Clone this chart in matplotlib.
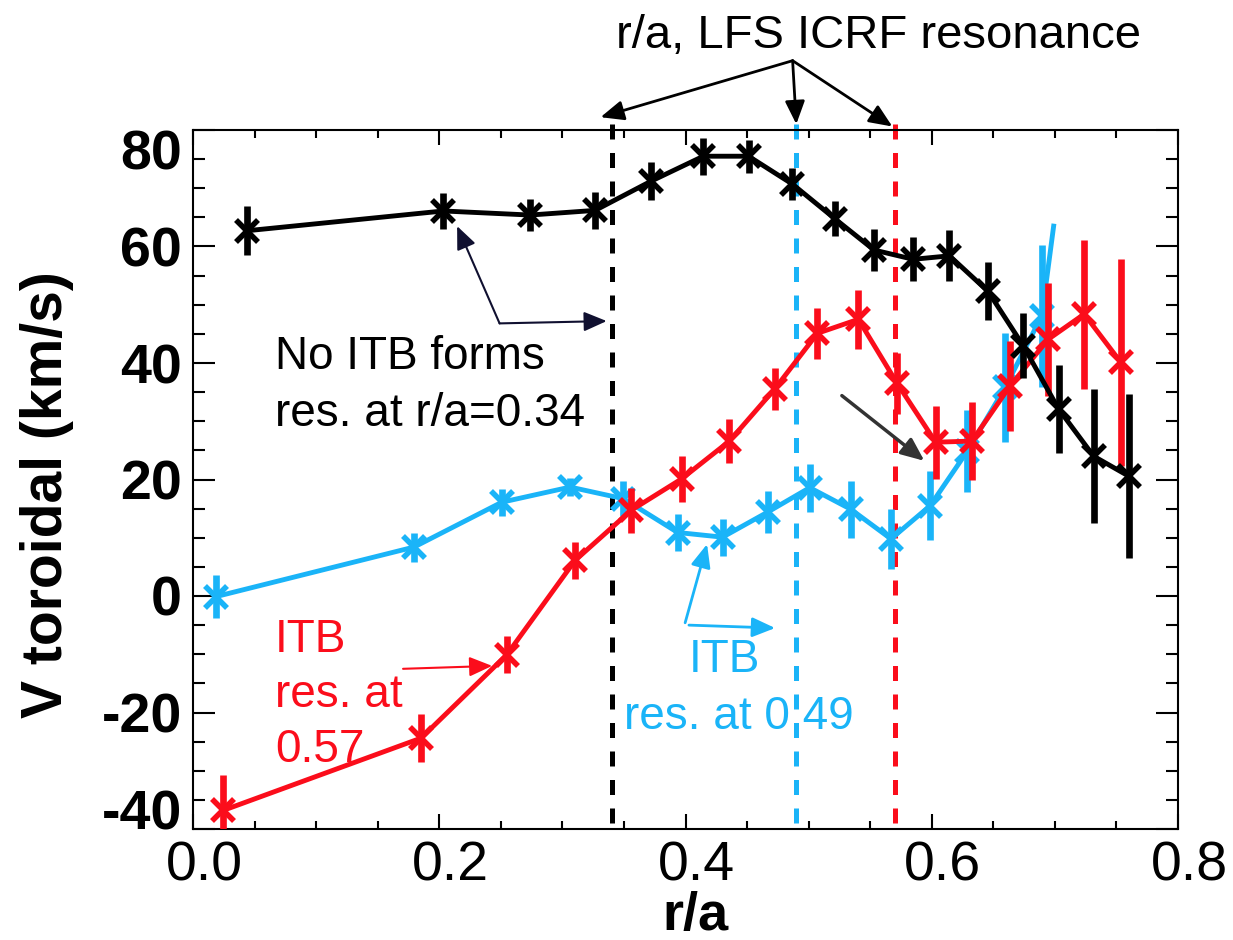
import numpy as np
import matplotlib.pyplot as plt
from matplotlib.ticker import MultipleLocator, FormatStrFormatter
from matplotlib.transforms import ScaledTranslation

plt.rcParams['font.family'] = ['Liberation Sans', 'DejaVu Sans']
plt.rcParams['axes.unicode_minus'] = False

# toroidal rotation profiles, three discharges
black_r = [0.0436, 0.2033, 0.2738, 0.3266, 0.3719, 0.4145, 0.4512, 0.4869, 0.5211,
           0.5531, 0.5849, 0.6144, 0.6457, 0.6742, 0.7030, 0.7315, 0.7598]
black_v = [62.7, 66.1, 65.4, 66.2, 71.2, 75.5, 75.5, 70.7, 64.8,
           59.4, 57.8, 58.4, 52.3, 43.0, 32.1, 24.0, 20.6]
black_err = [4.2, 3.1, 2.7, 3.2, 3.3, 3.2, 2.8, 2.8, 3.0,
             3.6, 3.8, 4.4, 5.0, 5.6, 7.5, 11.5, 14.0]

red_r = [0.0246, 0.1852, 0.2548, 0.3103, 0.3558, 0.3968, 0.4357, 0.4723, 0.5072,
         0.5404, 0.5719, 0.6032, 0.6326, 0.6637, 0.6948, 0.7238, 0.7536]
red_v = [-36.8, -24.4, -10.1, 6.1, 14.7, 20.1, 26.6, 35.5, 45.1,
         47.5, 36.5, 26.4, 26.6, 36.1, 44.1, 48.4, 40.1]
red_err = [6.0, 4.1, 3.2, 3.2, 3.9, 3.9, 3.8, 3.6, 4.4,
           5.1, 5.3, 6.3, 6.7, 7.7, 9.7, 12.8, 17.7]

blue_r = [0.0187, 0.1795, 0.2508, 0.3063, 0.3496, 0.3937, 0.4301, 0.4667,
          0.5009, 0.5342, 0.5669, 0.5987, 0.6290, 0.6596, 0.6894]
blue_v = [-0.1, 8.4, 16.1, 18.7, 16.7, 10.9, 10.1, 14.4,
          18.6, 14.9, 9.8, 15.5, 24.9, 35.8, 48.1]
blue_err = [3.7, 2.5, 2.3, 1.5, 3.0, 3.1, 3.2, 3.6,
            4.1, 4.9, 5.1, 5.9, 7.1, 9.4, 12.2]
blue_tail_r = 0.699
blue_tail_v = 63.5

# LFS ICRF resonance positions
res_r = [0.34, 0.49, 0.57]

BLACK = '#000000'
BLUE = '#1ab4f8'
RED = '#fb0d1b'
res_colors = [BLACK, BLUE, RED]

fig = plt.figure(figsize=(12.33, 9.40), dpi=100)
ax = fig.add_axes([193/1233, 111/940, 985/1233, 699/940])
ax.set_xlim(0, 0.8)
ax.set_ylim(-40, 80)

for r, c in zip(res_r, res_colors):
    ax.plot([r, r], [-39, 81], color=c, lw=3.6, ls=(0, (3, 2.7)),
            clip_on=False, zorder=1)


def profile(r, v, err, color, z):
    ax.errorbar(r, v, yerr=err, color=color, lw=3.5, elinewidth=4.8, capsize=0,
                marker='x', ms=16, mew=4, zorder=z)


ax.plot([blue_r[-1], blue_tail_r], [blue_v[-1], blue_tail_v], color=BLUE, lw=3.5, zorder=2)
profile(blue_r, blue_v, blue_err, BLUE, 2)
profile(red_r, red_v, red_err, RED, 3)
profile(black_r, black_v, black_err, BLACK, 4)

# axes and ticks
ax.set_xticks(np.arange(0, 0.81, 0.2))
ax.set_yticks(np.arange(-40, 81, 20))
ax.xaxis.set_minor_locator(MultipleLocator(0.05))
ax.yaxis.set_minor_locator(MultipleLocator(5))
ax.xaxis.set_major_formatter(FormatStrFormatter('%.1f'))
ax.yaxis.set_major_formatter(FormatStrFormatter('%d'))
ax.tick_params(which='both', direction='in', top=True, right=True, width=1.5)
ax.tick_params(axis='x', which='major', length=11, labelsize=40, pad=8)
ax.tick_params(axis='x', which='minor', length=6)
ax.tick_params(axis='y', which='major', length=16, labelsize=40, pad=8)
ax.tick_params(axis='y', which='minor', length=8.5)
for lab in ax.get_yticklabels():
    lab.set_fontweight('bold')
for s in ax.spines.values():
    s.set_linewidth(1.5)

ax.set_xlabel('r/a', fontsize=39, fontweight='bold')
ax.xaxis.set_label_coords(0.51, -0.088)
ax.set_ylabel('V toroidal (km/s)', fontsize=41, fontweight='bold')
ax.yaxis.set_label_coords(-0.121, 0.478)

# annotations
ax.text(0.0666, 38.9, 'No ITB forms', fontsize=33, va='baseline')
ax.text(0.0666, 29.2, 'res. at r/a=0.34', fontsize=33, va='baseline')
ax.text(0.0666, -9.6, 'ITB', fontsize=33, va='baseline', color=RED)
ax.text(0.0666, -19.0, 'res. at', fontsize=33, va='baseline', color=RED)
ax.text(0.0666, -28.5, '0.57', fontsize=33, va='baseline', color=RED)
ax.text(0.4314, -13.0, 'ITB', fontsize=33, va='baseline', ha='center', color=BLUE)
ax.text(0.4435, -22.8, 'res. at 0.49', fontsize=33, va='baseline', ha='center', color=BLUE)
fig.text(878/1233, 1 - 48/940, 'r/a, LFS ICRF resonance', fontsize=34,
         ha='center', va='baseline')


def arrow(start, end, color, lw, z=6):
    ax.annotate('', xy=end, xytext=start, annotation_clip=False, zorder=z,
                arrowprops=dict(arrowstyle='-|>,head_length=0.7,head_width=0.3',
                                mutation_scale=20, color=color, lw=lw,
                                shrinkA=0, shrinkB=0))


arrow((0.249, 46.8), (0.2145, 63.5), '#101030', 1.5)
arrow((0.249, 46.8), (0.336, 47.2), '#101030', 1.5)
arrow((0.1706, -12.5), (0.243, -12.0), RED, 1.5)
arrow((0.3997, -4.6), (0.4175, 8.9), BLUE, 2)
arrow((0.4028, -5.0), (0.4728, -5.5), BLUE, 2)
arrow((0.527, 34.4), (0.594, 23.2), '#333333', 2.5)

top = (0.487, 91.9)
arrow(top, (0.331, 82.2), BLACK, 2)
arrow(top, (0.490, 81.0), BLACK, 2)
arrow(top, (0.568, 80.6), BLACK, 2)

# end labels of the y axis sit inside the frame, x labels a little right of their ticks
fig.canvas.draw()
for t in ax.yaxis.get_major_ticks():
    if np.isclose(t.get_loc(), 80):
        t.label1.set_va('top')
    elif np.isclose(t.get_loc(), -40):
        t.label1.set_va('baseline')
shift = ScaledTranslation(11/100, 0, fig.dpi_scale_trans)
for lab in ax.get_xticklabels():
    lab.set_transform(lab.get_transform() + shift)

fig.savefig('out.png', dpi=100)
